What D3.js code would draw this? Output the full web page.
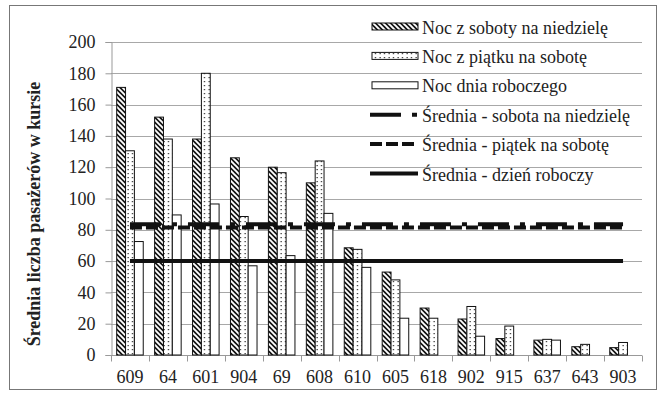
<!DOCTYPE html>
<html>
<head>
<meta charset="utf-8">
<script src="https://cdn.jsdelivr.net/npm/d3@7/dist/d3.min.js"></script>
<style>
  html, body { margin: 0; padding: 0; background: #fff; }
  svg { display: block; }
  text { font-family: "Liberation Serif", "Times New Roman", serif; fill: #222; }
</style>
</head>
<body>
<svg id="chart" width="663" height="394"></svg>
<script>
// Night bus routes and average passengers per trip
const routes = ["609", "64", "601", "904", "69", "608", "610", "605", "618", "902", "915", "637", "643", "903"];
const satSun = [171, 152, 138, 126, 120, 110, 68.5, 53, 30, 23, 10.5, 9.5, 5.3, 4.7];
const friSat = [130.5, 138, 180, 88.5, 116.5, 124, 67.5, 48, 23.5, 31, 18.5, 10, 6.8, 8];
const workday = [72.5, 89.5, 96.5, 57, 63.5, 90.5, 56, 23.5, 0, 12, 0, 9.5, 0, 0];
const meanSatSun = 83.5;
const meanFriSat = 81.5;
const meanWorkday = 60;
const yTicks = [0, 20, 40, 60, 80, 100, 120, 140, 160, 180, 200];

const legendLabels = [
  "Noc z soboty na niedzielę",
  "Noc z piątku na sobotę",
  "Noc dnia roboczego",
  "Średnia - sobota na niedzielę",
  "Średnia - piątek na sobotę",
  "Średnia - dzień roboczy"
];

const svg = d3.select("#chart");
const plotLeft = 111, plotRight = 642, plotTop = 42, plotBottom = 355;

// outer frame
svg.append("rect").attr("x", 9.5).attr("y", 5.5).attr("width", 647).attr("height", 384)
  .attr("fill", "#fff").attr("stroke", "#777").attr("stroke-width", 1);

// fill patterns
const defs = svg.append("defs");
const hatch = defs.append("pattern").attr("id", "hatch").attr("patternUnits", "userSpaceOnUse")
  .attr("width", 5).attr("height", 5);
hatch.append("rect").attr("width", 5).attr("height", 5).attr("fill", "#111");
hatch.append("path").attr("d", "M0,0L5,5M-1,4L1,6M4,-1L6,1")
  .attr("stroke", "#fff").attr("stroke-width", 1.9);
const dots = defs.append("pattern").attr("id", "dots").attr("patternUnits", "userSpaceOnUse")
  .attr("width", 4.5).attr("height", 4);
dots.append("rect").attr("width", 4.5).attr("height", 4).attr("fill", "#fff");
dots.append("rect").attr("x", 1.5).attr("y", 1).attr("width", 1.2).attr("height", 1.2).attr("fill", "#222");

const x = d3.scaleBand().domain(routes).range([plotLeft, plotRight]).paddingInner(0).paddingOuter(0);
const y = d3.scaleLinear().domain([0, 200]).range([plotBottom, plotTop]);

// gridlines
svg.append("g").selectAll("line").data(yTicks.filter(d => d > 0)).join("line")
  .attr("x1", plotLeft).attr("x2", plotRight)
  .attr("y1", d => Math.round(y(d)) + 0.5).attr("y2", d => Math.round(y(d)) + 0.5)
  .attr("stroke", "#a8a8a8").attr("stroke-width", 1);

// y axis
const yAxis = svg.append("g").attr("transform", `translate(${plotLeft + 0.5},0)`)
  .call(d3.axisLeft(y).tickValues(yTicks).tickSize(6).tickPadding(10));
yAxis.select(".domain").attr("stroke", "#999");
yAxis.selectAll(".tick line").attr("stroke", "#999");
yAxis.selectAll(".tick text").attr("font-size", 18).attr("fill", "#222")
  .attr("font-family", "Liberation Serif, serif");

// x axis, ticks on category boundaries
const xAxisG = svg.append("g").attr("transform", `translate(0,${plotBottom + 0.5})`);
xAxisG.append("line").attr("x1", plotLeft).attr("x2", plotRight).attr("stroke", "#999");
const bounds = routes.map(r => x(r)).concat([plotRight]);
xAxisG.selectAll("line.tk").data(bounds).join("line").attr("class", "tk")
  .attr("x1", d => Math.round(d) + 0.5).attr("x2", d => Math.round(d) + 0.5)
  .attr("y1", 0).attr("y2", 6).attr("stroke", "#999");
xAxisG.selectAll("text").data(routes).join("text")
  .attr("x", d => x(d) + x.bandwidth() / 2).attr("y", 27.5)
  .attr("text-anchor", "middle").attr("font-size", 18).text(d => d);

// bars
const groupPad = x.bandwidth() * 0.15;
const barW = (x.bandwidth() - 2 * groupPad) / 3;
const series = [
  { values: satSun, fill: "url(#hatch)" },
  { values: friSat, fill: "url(#dots)" },
  { values: workday, fill: "#fff" }
];
series.forEach((s, si) => {
  svg.append("g").selectAll("rect")
    .data(routes.map((r, i) => ({ r, v: s.values[i] })).filter(d => d.v > 0))
    .join("rect")
    .attr("x", d => x(d.r) + groupPad + si * barW)
    .attr("y", d => y(d.v))
    .attr("width", barW)
    .attr("height", d => y(0) - y(d.v))
    .attr("fill", s.fill)
    .attr("stroke", "#111").attr("stroke-width", 1);
});

// mean lines spanning first to last category centre
const x0 = x(routes[0]) + x.bandwidth() / 2;
const x1 = x(routes[routes.length - 1]) + x.bandwidth() / 2;
const means = [
  { v: meanWorkday, dash: null },
  { v: meanFriSat, dash: "12 4" },
  { v: meanSatSun, dash: "31 11 5 11" }
];
means.forEach(m => {
  svg.append("line").attr("x1", x0).attr("x2", x1)
    .attr("y1", y(m.v)).attr("y2", y(m.v))
    .attr("stroke", "#111").attr("stroke-width", 4)
    .attr("stroke-dasharray", m.dash);
});

// legend
const lg = svg.append("g");
const symX = 372, symW = 46, textX = 422;
legendLabels.forEach((label, i) => {
  const cy = 26.5 + i * 29.4;
  if (i < 3) {
    lg.append("rect").attr("x", symX).attr("y", cy - 3.5).attr("width", symW).attr("height", 7)
      .attr("fill", i === 0 ? "url(#hatch)" : i === 1 ? "url(#dots)" : "#fff")
      .attr("stroke", "#111").attr("stroke-width", 1);
  } else {
    const dash = i === 3 ? "31 11 5 11" : i === 4 ? "12 4" : null;
    lg.append("line").attr("x1", symX - 2).attr("x2", symX + symW).attr("y1", cy).attr("y2", cy)
      .attr("stroke", "#111").attr("stroke-width", 4).attr("stroke-dasharray", dash);
  }
  lg.append("text").attr("x", textX).attr("y", cy + 7).attr("font-size", 18).text(label);
});

// y axis title
svg.append("text")
  .attr("transform", "translate(40,214) rotate(-90)")
  .attr("text-anchor", "middle").attr("font-size", 18).attr("font-weight", "bold")
  .text("Średnia liczba pasażerów w kursie");
</script>
</body>
</html>
